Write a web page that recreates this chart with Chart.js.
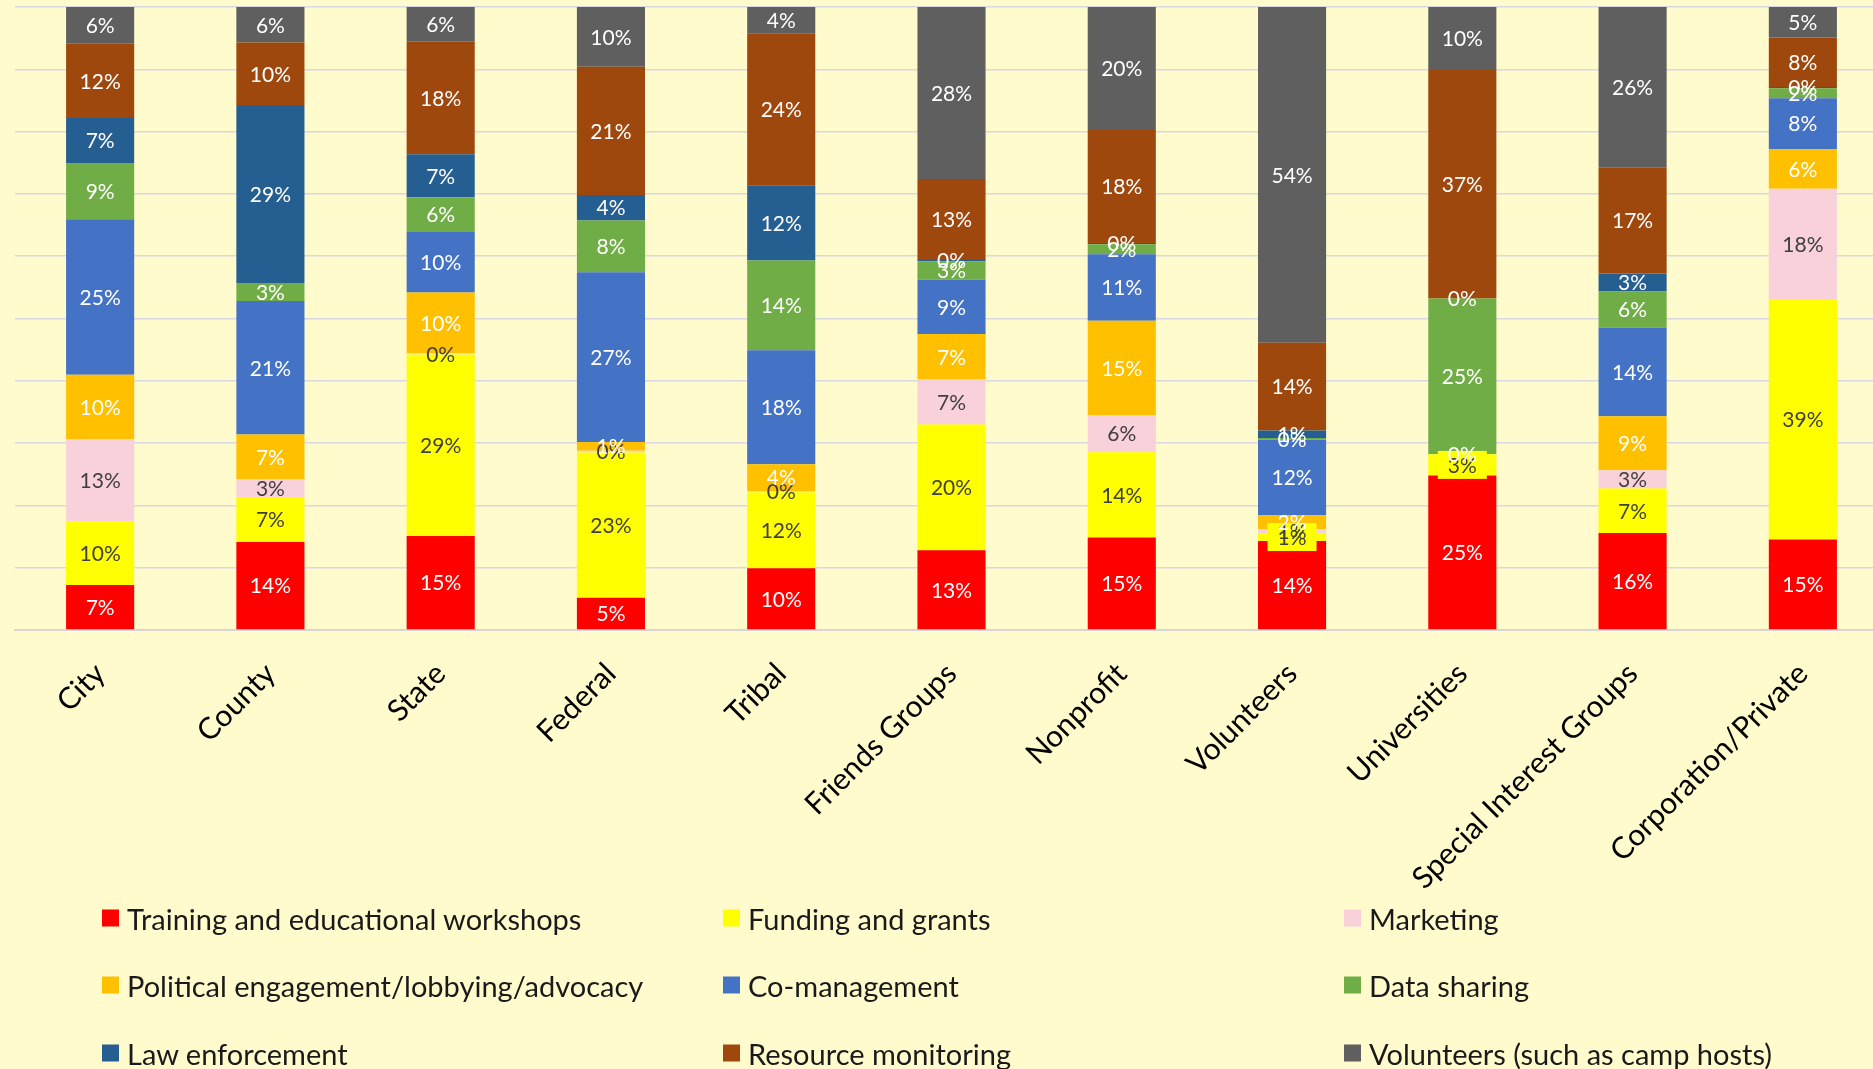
<!DOCTYPE html>
<html>
<head>
<meta charset="utf-8">
<script src="https://cdn.jsdelivr.net/npm/chart.js@4.4.1/dist/chart.umd.min.js"></script>
<style>
    html, body {
        margin: 0;
        padding: 0;
        width: 1873px;
        height: 1069px;
        overflow: hidden;
        background: #FFFBCC;
        font-family: Lato, "Open Sans", sans-serif;
    }
    #wrap {
        position: absolute;
        left: 0;
        top: 0;
        width: 1890px;
        height: 895px;
    }
    #legend {
        position: absolute;
        left: 0;
        top: 0;
        width: 1873px;
        height: 1069px;
        pointer-events: none;
    }
    .item {
        position: absolute;
        display: flex;
        align-items: center;
        font-size: 29px;
        color: #1a1a1a;
        white-space: nowrap;
        transform: translateY(-50%);
    }
    .item span.box {
        width: 17px;
        height: 17px;
        margin-right: 8px;
        display: inline-block;
    }
</style>
</head>
<body>
<div id="wrap"><canvas id="barChart" width="1890" height="895"></canvas></div>
<div id="legend"></div>

<script>
/* ---------------------------
   Data (percent per group)
---------------------------- */
const categories = [
    "City", "County", "State", "Federal", "Tribal", "Friends Groups",
    "Nonprofit", "Volunteers", "Universities", "Special Interest Groups",
    "Corporation/Private"
];

const training           = [7.2, 14.1, 15.1, 5.2, 9.9, 12.8, 14.9, 14.3, 24.8, 15.6, 14.6];
const funding            = [10.2, 7.2, 29.2, 23.3, 12.2, 20.2, 13.7, 1.3, 3.4, 7.2, 38.8];
const marketing          = [13.2, 2.8, 0.2, 0.3, 0.2, 7.2, 6.0, 0.6, null, 2.9, 17.8];
const political          = [10.3, 7.2, 9.8, 1.4, 4.3, 7.3, 15.2, 2.3, 0, 8.7, 6.4];
const coManagement       = [24.9, 21.4, 9.7, 27.3, 18.3, 8.7, 10.7, 12.1, null, 14.3, 8.2];
const dataSharing        = [9.0, 2.9, 5.6, 8.3, 14.4, 3.0, 1.6, 0.3, 25.0, 5.8, 1.6];
const lawEnforcement     = [7.2, 28.5, 6.9, 4.1, 12.1, 0.2, 0.2, 1.2, 0, 2.9, 0.2];
const resourceMonitoring = [11.9, 10.0, 18.1, 20.6, 24.4, 13.0, 18.2, 14.1, 36.7, 17.1, 8.0];
const volunteers         = [5.9, 5.7, 5.6, 9.6, 4.2, 27.6, 19.8, 54.0, 10.1, 25.8, 4.9];

const seriesNames = [
    "Training and educational workshops", "Funding and grants", "Marketing",
    "Political engagement/lobbying/advocacy", "Co-management", "Data sharing",
    "Law enforcement", "Resource monitoring", "Volunteers (such as camp hosts)"
];
const seriesValues = [
    training, funding, marketing, political, coManagement,
    dataSharing, lawEnforcement, resourceMonitoring, volunteers
];
const seriesColors = [
    "#FF0000", "#FFFF00", "#F9D1DA", "#FFC000", "#4472C4",
    "#70AD47", "#255E91", "#9E480E", "#5F5F5F"
];
const labelColors = [
    "#FFFFFF", "#404040", "#404040", "#FFFFFF", "#FFFFFF",
    "#FFFFFF", "#FFFFFF", "#FFFFFF", "#FFFFFF"
];

/* ---------------------------
   100% stacking
---------------------------- */
const totals = categories.map((_, c) =>
    seriesValues.reduce((sum, s) => sum + (s[c] || 0), 0)
);

const datasets = seriesValues.map((values, i) => ({
    label: seriesNames[i],
    data: values.map((v, c) => v === null ? null : v / totals[c] * 100),
    backgroundColor: seriesColors[i],
    labelColor: labelColors[i],
    labelBox: i === 1,
    barPercentage: 0.8,
    categoryPercentage: 0.5
}));

/* ---------------------------
   Segment labels
---------------------------- */
const segmentLabels = {
    id: "segmentLabels",
    afterDatasetsDraw(chart) {
        const ctx = chart.ctx;
        ctx.save();
        ctx.font = "21px Lato";
        ctx.textAlign = "center";
        ctx.textBaseline = "middle";

        chart.data.datasets.forEach((ds, i) => {
            const meta = chart.getDatasetMeta(i);
            meta.data.forEach((bar, j) => {
                if (ds.data[j] === null) return;
                const text = Math.round(ds.data[j]) + "%";
                const y = (bar.y + bar.base) / 2;
                if (ds.labelBox) {
                    const w = ctx.measureText(text).width + 20;
                    ctx.fillStyle = ds.backgroundColor;
                    ctx.fillRect(bar.x - w / 2, y - 14, w, 28);
                }
                ctx.fillStyle = ds.labelColor;
                ctx.fillText(text, bar.x, y + 1);
            });
        });
        ctx.restore();
    }
};

/* ---------------------------
   Chart
---------------------------- */
const ctx = document.getElementById("barChart").getContext("2d");

new Chart(ctx, {
    type: "bar",
    data: { labels: categories, datasets },
    options: {
        responsive: false,
        animation: false,
        layout: { padding: { top: 7, left: 15, right: 2, bottom: 0 } },
        scales: {
            x: {
                stacked: true,
                grid: { display: false },
                border: { color: "#D6D6D6", width: 2 },
                ticks: {
                    color: "#000000",
                    font: { family: "Lato", size: 30 },
                    minRotation: 45,
                    maxRotation: 45,
                    padding: 18
                },
                afterFit: axis => { axis.height = 265; }
            },
            y: {
                stacked: true,
                min: 0,
                max: 100,
                grid: { color: "#D8D8E2", lineWidth: 1.5, drawTicks: false },
                border: { display: false },
                ticks: { display: false, stepSize: 10 },
                afterFit: axis => { axis.width = 0; }
            }
        },
        plugins: {
            legend: { display: false },
            tooltip: { enabled: false }
        }
    },
    plugins: [segmentLabels]
});

/* ---------------------------
   Legend (3 x 3 grid)
---------------------------- */
const legendCols = [102, 723, 1344];
const legendRows = [918, 985, 1053];
const legendEl = document.getElementById("legend");

seriesNames.forEach((name, i) => {
    const item = document.createElement("div");
    item.className = "item";
    item.style.left = legendCols[i % 3] + "px";
    item.style.top = legendRows[Math.floor(i / 3)] + "px";
    item.innerHTML = `<span class="box" style="background:${seriesColors[i]}"></span>${name}`;
    legendEl.appendChild(item);
});
</script>
</body>
</html>
